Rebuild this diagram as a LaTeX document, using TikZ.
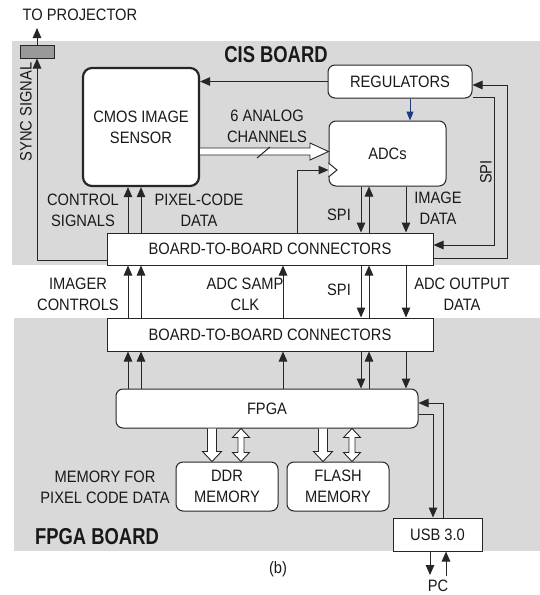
\documentclass[tikz,border=0pt]{standalone}
\usepackage{fontspec}
\setmainfont{Liberation Sans}[FakeStretch=0.89]
\newfontfamily\boardfont{Liberation Sans}[FakeStretch=0.8]
\usetikzlibrary{arrows.meta,calc}
\definecolor{boardgray}{HTML}{D9D9D9}
\definecolor{projgray}{HTML}{999999}
\definecolor{regblue}{HTML}{1F3A80}
\newcommand\hollowdown[3]{%
 \draw[hol] ($(#1.south -| #3,0)+(-4.5,0)$) -- ($(#2.north -| #3,0)+(-4.5,-10)$) -- ++(-5,0) -- (#2.north -| #3,0) -- ++(9.5,-10) -- ++(-5,0) -- ($(#1.south -| #3,0)+(4.5,0)$);}
\newcommand\hollowboth[3]{%
 \draw[hol] (#1.south -| #3,0) -- ++(8.5,9) -- ++(-5.5,0) -- ($(#2.north -| #3,0)+(3,-9)$) -- ++(5.5,0) -- (#2.north -| #3,0) -- ++(-8.5,-9) -- ++(5.5,0) -- ($(#1.south -| #3,0)+(-3,9)$) -- ++(-5.5,0) -- cycle;}
\begin{document}
\begin{tikzpicture}[x=1pt,y=-1pt,
  every node/.style={font=\fontsize{16.5}{21}\selectfont, text=black!90, align=center, inner sep=0pt},
  ln/.style={draw=black!85, line width=1pt},
  arr/.style={ln, -{Triangle[length=10pt,width=8.5pt]}},
  arrblue/.style={draw=regblue, line width=1pt, -{Triangle[length=9pt,width=7pt]}},
  box/.style={draw=black!85, line width=1pt, fill=white},
  rbox/.style={box, rounded corners=7pt},
  hol/.style={draw=black!85, fill=white, line width=0.9pt, line join=miter},
  boardlabel/.style={font=\boardfont\bfseries\fontsize{23}{26}\selectfont}
]
\useasboundingbox (0,0) rectangle (540,595);
% board backgrounds
\fill[boardgray] (12,41) rectangle (540,265);
\fill[boardgray] (14,318) rectangle (540,551);

% nodes
\node[box, fill=projgray, minimum width=34pt, minimum height=13pt] (proj) at (37,51.5) {};
\coordinate (projout) at (37,28);
\node (toproj) at (80,15) {TO PROJECTOR};
\node[rotate=90] (sync) at (26,112) {SYNC SIGNAL};
\node[boardlabel] (cisb) at (276,55) {CIS BOARD};
\node[boardlabel] (fpgab) at (97,537) {FPGA BOARD};

\node[rbox, line width=2.2pt, rounded corners=9pt, minimum width=116pt, minimum height=118pt] (cmos) at (141,127) {CMOS IMAGE\\SENSOR};
\node[rbox, minimum width=144pt, minimum height=33pt] (reg) at (400,81.5) {REGULATORS};
\node[rbox, minimum width=117pt, minimum height=65pt] (adc) at (387.5,153.5) {ADCs};
\node[box, minimum width=326pt, minimum height=32pt] (conn1) at (270,249) {BOARD-TO-BOARD CONNECTORS};
\node[box, minimum width=326pt, minimum height=33pt] (conn2) at (270,334.5) {BOARD-TO-BOARD CONNECTORS};
\node[rbox, minimum width=302pt, minimum height=39pt] (fpga) at (267,408.5) {FPGA};
\node[rbox, minimum width=102pt, minimum height=49pt] (ddr) at (227,486.5) {DDR\\MEMORY};
\node[rbox, minimum width=102pt, minimum height=49pt] (flash) at (338,486.5) {FLASH\\MEMORY};
\node[box, minimum width=89pt, minimum height=33pt] (usb) at (437.5,534.5) {USB 3.0};
\coordinate (pcdown) at (430,575);
\coordinate (pcup) at (446,576);

% labels
\node (analog) at (267,126) {6 ANALOG\\CHANNELS};
\node (ctrl) at (83,210) {CONTROL\\SIGNALS};
\node (pix) at (199,210) {PIXEL-CODE\\DATA};
\node (spi1) at (339,215) {SPI};
\node (imgd) at (438,208) {IMAGE\\DATA};
\node[rotate=90] (spir) at (486,172) {SPI};
\node (imgc) at (78,294) {IMAGER\\CONTROLS};
\node (adcclk) at (245,294) {ADC SAMP\\CLK};
\node (spi2) at (339,290) {SPI};
\node (adcout) at (462,294) {ADC OUTPUT\\DATA};
\node (memfor) at (105,487) {MEMORY FOR\\PIXEL CODE DATA};
\node (blabel) at (278,569) {(b)};
\node (pc) at (438,586) {PC};

% projector / sync
\draw[arr] (proj.north) -- (projout);
\draw[arr] ($(conn1.south west)+(0,-5)$) -| (proj.south);

% regulators
\draw[arr] (reg.west) -- (reg.west -| cmos.east);
\draw[arrblue] (reg.south -| 410,0) -- (adc.north -| 410,0);

% analog channels hollow arrow
\draw[hol] (cmos.east |- 0,148) -- (310,148) -- (310,143) -- (adc.west |- 0,151.5) -- (310,160) -- (310,155) -- (cmos.east |- 0,155);
\draw[ln] (257,158) -- (270,147);

% ADC clock input
\draw[ln, fill=white] (adc.west |- 0,163) -- (337,170) -- (adc.west |- 0,177);
\draw[arr] (conn1.north -| 297,0) |- (adc.west |- 0,170);

% CIS connector <-> CMOS
\draw[arr] (conn1.north -| 128,0) -- (cmos.south -| 128,0);
\draw[arr] (conn1.north -| 141,0) -- (cmos.south -| 141,0);

% ADC <-> CIS connector
\draw[arr] (adc.south -| 361,0) -- (conn1.north -| 361,0);
\draw[arr] (conn1.north -| 369,0) -- (adc.south -| 369,0);
\draw[arr] (adc.south -| 406,0) -- (conn1.north -| 406,0);

% SPI loop to regulators
\draw[arr] (conn1.east |- 0,258) -- (507,258) -- (507,85) -- (reg.east |- 0,85);
\draw[arr] (reg.east |- 0,97) -- (494,97) -- (494,245) -- (conn1.east |- 0,245);

% between connectors
\draw[arr] (conn2.north -| 128,0) -- (conn1.south -| 128,0);
\draw[arr] (conn2.north -| 141,0) -- (conn1.south -| 141,0);
\draw[arr] (conn2.north -| 283,0) -- (conn1.south -| 283,0);
\draw[arr] (conn1.south -| 361,0) -- (conn2.north -| 361,0);
\draw[arr] (conn2.north -| 369,0) -- (conn1.south -| 369,0);
\draw[arr] (conn1.south -| 406,0) -- (conn2.north -| 406,0);

% FPGA <-> lower connector
\draw[arr] (fpga.north -| 128,0) -- (conn2.south -| 128,0);
\draw[arr] (fpga.north -| 141,0) -- (conn2.south -| 141,0);
\draw[arr] (fpga.north -| 283,0) -- (conn2.south -| 283,0);
\draw[arr] (conn2.south -| 361,0) -- (fpga.north -| 361,0);
\draw[arr] (fpga.north -| 369,0) -- (conn2.south -| 369,0);
\draw[arr] (conn2.south -| 406,0) -- (fpga.north -| 406,0);

% memory hollow arrows
\hollowdown{fpga}{ddr}{212}
\hollowboth{fpga}{ddr}{241}
\hollowdown{fpga}{flash}{323}
\hollowboth{fpga}{flash}{352}

% USB
\draw[arr] (fpga.east |- 0,414) -- (433,414) -- (usb.north -| 433,0);
\draw[arr] (usb.north -| 443,0) -- (443,403) -- (fpga.east |- 0,403);
\draw[arr] (usb.south -| 430,0) -- (pcdown);
\draw[arr] (pcup) -- (usb.south -| 446,0);
\end{tikzpicture}
\end{document}
